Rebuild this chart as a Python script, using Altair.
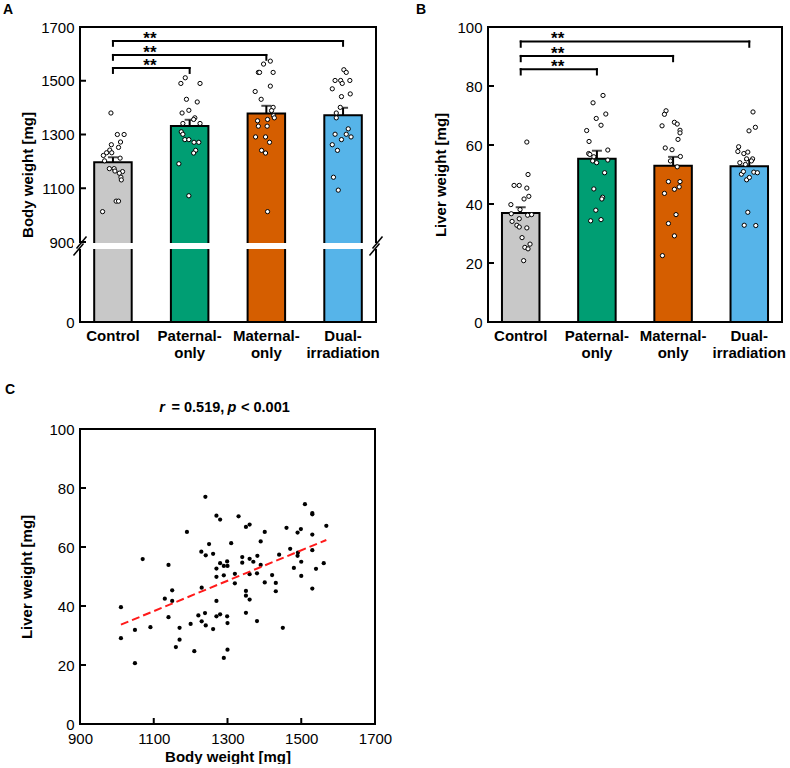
import altair as alt
import pandas as pd

GROUPS = ["Control", "Paternal-only", "Maternal-only", "Dual-irradiation"]
COLORS = ["#c8c8c8", "#009e73", "#d55e00", "#56b4e9"]
FONT = "Liberation Sans"

# Body weight per animal [mg]
body_control = [1380, 1300, 1300, 1272, 1262, 1252, 1242, 1232, 1232, 1222, 1212,
                1202, 1173, 1173, 1164, 1162, 1156, 1141, 1131, 1052, 1052, 1013]
body_paternal = [1511, 1490, 1490, 1431, 1421, 1390, 1380, 1362, 1356, 1341, 1341,
                 1310, 1301, 1281, 1281, 1271, 1271, 1241, 1231, 1191, 1072]
body_maternal = [1573, 1562, 1531, 1531, 1531, 1480, 1460, 1431, 1401, 1389, 1370,
                 1362, 1351, 1356, 1331, 1331, 1291, 1291, 1271, 1241, 1231, 1013]
body_dual = [1541, 1531, 1501, 1501, 1501, 1490, 1470, 1451, 1441, 1401, 1380,
             1362, 1321, 1301, 1301, 1291, 1281, 1262, 1241, 1141, 1093]

# Horizontal spread of the dots inside each bar (fraction of bar width)
body_control_jit = [-0.05, 0.11, 0.28, 0.19, -0.04, 0.14, -0.08, -0.16, -0.03, -0.24, 0.18,
                    -0.21, -0.09, 0.03, 0.05, 0.24, 0.16, 0.20, 0.21, 0.08, 0.14, -0.26]
body_paternal_jit = [-0.11, -0.22, 0.26, -0.08, 0.19, -0.02, -0.19, 0.13, 0.10, -0.17, 0.26,
                     -0.21, -0.17, -0.12, -0.02, 0.11, 0.23, 0.15, 0.10, -0.27, -0.02]
body_maternal_jit = [0.10, -0.07, -0.20, -0.17, 0.17, 0.10, -0.28, -0.13, 0.17, 0.13, 0.18,
                     0.20, -0.22, 0.03, -0.20, 0.02, -0.27, -0.02, 0.08, -0.12, -0.02, 0.03]
body_dual_jit = [0.02, 0.08, -0.20, -0.06, 0.17, -0.02, -0.27, 0.18, -0.04, -0.07, -0.17,
                 -0.17, 0.13, -0.20, 0.08, 0.20, -0.04, -0.27, -0.14, -0.24, -0.12]

# Liver weight per animal [mg]
liver_control = [61.0, 50.0, 46.3, 46.3, 45.4, 42.6, 41.7, 39.8, 38.1, 36.7, 36.2,
                 36.4, 35.0, 34.1, 32.8, 32.2, 31.9, 28.6, 26.4, 25.3, 24.8, 20.8]
liver_paternal = [76.8, 74.3, 70.5, 69.0, 66.7, 64.9, 61.2, 58.3, 57.1, 56.8, 56.0,
                  54.6, 54.0, 54.9, 50.6, 45.1, 42.3, 41.7, 37.9, 34.3, 34.7]
liver_maternal = [71.6, 70.4, 66.5, 67.7, 67.1, 65.0, 64.1, 61.9, 59.0, 58.4, 56.1,
                  54.6, 52.6, 47.6, 47.6, 45.8, 45.0, 43.6, 36.4, 33.4, 29.2, 22.5]
liver_dual = [71.2, 66.0, 64.8, 59.4, 57.8, 57.1, 57.6, 55.3, 55.3, 54.0, 50.1,
              51.0, 50.8, 50.6, 48.2, 37.2, 32.8, 32.7, 54.6, 53.4, 49.0]

liver_control_jit = [0.15, 0.18, -0.17, -0.04, 0.15, 0.20, 0.08, -0.25, -0.02, -0.24, 0.17,
                     0.27, -0.04, -0.22, -0.10, -0.04, 0.15, 0.03, 0.23, 0.10, 0.18, 0.07]
liver_paternal_jit = [0.15, -0.10, 0.22, -0.02, 0.10, -0.26, -0.20, 0.27, -0.21, -0.18, -0.08,
                      -0.11, -0.01, 0.27, 0.19, -0.08, 0.14, 0.12, -0.03, -0.16, 0.10]
liver_maternal_jit = [-0.18, -0.22, -0.28, 0.03, 0.10, 0.17, 0.17, 0.12, -0.20, -0.03, 0.18,
                      -0.07, 0.10, -0.12, 0.17, 0.15, 0.03, -0.22, 0.07, -0.12, 0.03, -0.27]
liver_dual_jit = [0.09, 0.15, -0.01, -0.27, -0.29, -0.14, -0.04, -0.07, 0.08, -0.24, -0.20,
                  -0.15, 0.11, 0.20, -0.07, -0.04, -0.13, 0.16, 0.05, -0.10, 0.00]

# Paired body / liver weights of every animal
scatter_body = [1240, 1270, 1280, 1190, 1250, 1229, 1241, 1261, 1280, 1070, 1140, 1270,
                1270, 1230, 1150, 1130, 1150, 1270, 1011, 1280, 1239, 1221, 1140, 1270,
                1230, 1200, 1241, 1091, 1170, 1261, 1049, 1011, 1170, 1160, 1210, 1049,
                1510, 1530, 1530, 1330, 1360, 1350, 1568, 1460, 1499, 1490, 1401, 1530,
                1390, 1310, 1470, 1491, 1490, 1530, 1440, 1340, 1340, 1360, 1370, 1381,
                1299, 1290, 1300, 1390, 1480, 1500, 1561, 1540, 1320, 1360, 1380, 1421,
                1290, 1500, 1320, 1401, 1431, 1431, 1350, 1350, 1360, 1530, 1299, 1300,
                1350, 1380, 1450, 1300, 1290]
scatter_liver = [77.0, 70.6, 69.3, 65.1, 61.0, 58.4, 57.2, 57.7, 54.5, 55.9, 53.9, 52.7,
                 49.9, 46.2, 45.3, 42.5, 41.7, 41.7, 39.6, 37.2, 37.6, 36.8, 36.2, 36.5,
                 34.8, 33.9, 33.4, 32.8, 32.6, 32.2, 31.9, 29.1, 28.6, 26.1, 24.7, 20.6,
                 74.5, 71.5, 71.1, 70.4, 67.6, 66.8, 67.2, 66.5, 66.1, 64.9, 65.1, 64.2,
                 61.9, 61.3, 59.4, 58.1, 57.0, 58.9, 57.4, 56.6, 54.7, 56.0, 55.0, 57.0,
                 55.1, 53.6, 53.6, 53.9, 52.9, 55.0, 54.5, 52.6, 50.9, 50.8, 51.1, 50.5,
                 50.4, 50.2, 47.7, 48.0, 47.8, 45.0, 45.1, 43.5, 42.2, 45.9, 36.5, 34.2,
                 37.7, 34.9, 32.6, 25.2, 22.4]

# Significance brackets: Control vs. each irradiated group (** p < 0.01)
brackets_body = {"target": ["Paternal-only", "Maternal-only", "Dual-irradiation"],
                 "level": [1547, 1596, 1648]}
brackets_liver = {"target": ["Paternal-only", "Maternal-only", "Dual-irradiation"],
                  "level": [85.7, 90.2, 95.1]}

W_A, W_B, W_C, H = 296, 294, 295, 295
LW = 2
BAR_W = 37.5


def tidy(values, jitters):
    rows = []
    for g, vals, jit in zip(GROUPS, values, jitters):
        for v, j in zip(vals, jit):
            rows.append({"group": g, "value": v, "jit": j})
    return pd.DataFrame(rows)


one = pd.DataFrame({"k": [0]})

label_expr = ("indexof(datum.label, '-') > 0 ? "
              "[slice(datum.label, 0, indexof(datum.label, '-') + 1), "
              "slice(datum.label, indexof(datum.label, '-') + 1)] : datum.label")


def frame(width, height):
    """Four black sides of the plotting box."""
    specs = [
        dict(x=alt.value(0), x2=alt.value(0), y=alt.value(0), y2=alt.value(height)),
        dict(x=alt.value(width), x2=alt.value(width), y=alt.value(0), y2=alt.value(height)),
        dict(x=alt.value(0), x2=alt.value(width), y=alt.value(0), y2=alt.value(0)),
        dict(x=alt.value(0), x2=alt.value(width), y=alt.value(height), y2=alt.value(height)),
    ]
    return [alt.Chart(one).mark_rule(color="black", strokeWidth=LW, strokeCap="square").encode(**s)
            for s in specs]


def panel_letter(letter, dx, dy):
    return alt.Chart(pd.DataFrame({"t": [letter]})).mark_text(
        font=FONT, fontSize=14, fontWeight="bold", align="left", baseline="top", color="black"
    ).encode(text="t:N", x=alt.value(dx), y=alt.value(dy))


def bar_panel(df, width, yscale, yaxis, tick_vals, brackets, drop, letter, broken=False):
    x_scale = alt.Scale(domain=GROUPS, paddingInner=0.511, paddingOuter=0.185)
    x_axis = alt.Axis(title=None, labelAngle=0, labelExpr=label_expr, labelFontWeight="bold",
                      labelFontSize=15, labelPadding=6, labelLineHeight=17)

    def X(field):
        return alt.X(field, scale=x_scale, axis=x_axis, sort=GROUPS)

    def Y(field):
        return alt.Y(field, scale=yscale, axis=yaxis)

    base = alt.Chart(df)
    stats = base.transform_aggregate(
        mean="mean(value)", sem="stderr(value)", groupby=["group"]
    ).transform_calculate(top="datum.mean + datum.sem")

    bars = stats.mark_bar(stroke="black", strokeWidth=LW, width=BAR_W).encode(
        x=X("group:N"), y=Y("mean:Q"),
        color=alt.Color("group:N", scale=alt.Scale(domain=GROUPS, range=COLORS), legend=None),
    )
    err = stats.mark_rule(color="black", strokeWidth=LW).encode(
        x=X("group:N"), y=Y("mean:Q"), y2="top:Q")
    cap = stats.mark_tick(color="black", thickness=LW, size=10).encode(
        x=X("group:N"), y=Y("top:Q"))
    dots = base.mark_circle(fill="white", stroke="black", strokeWidth=1, size=18, opacity=1).encode(
        x=X("group:N"),
        xOffset=alt.XOffset("jit:Q", scale=alt.Scale(domain=[-0.47, 0.47])),
        y=Y("value:Q"),
    )

    bdf = pd.DataFrame({"g1": "Control", "g2": brackets["target"], "lvl": brackets["level"]})
    bdf["lo"] = bdf["lvl"] - drop
    bdf["star"] = "**"
    bch = alt.Chart(bdf)
    rule_kw = dict(color="black", strokeWidth=LW, strokeCap="square")
    b_h = bch.mark_rule(**rule_kw).encode(x=X("g1:N"), x2="g2:N", y=Y("lvl:Q"))
    b_l = bch.mark_rule(**rule_kw).encode(x=X("g1:N"), y=Y("lvl:Q"), y2="lo:Q")
    b_r = bch.mark_rule(**rule_kw).encode(x=X("g2:N"), y=Y("lvl:Q"), y2="lo:Q")
    b_t = bch.mark_text(font=FONT, fontSize=17, fontWeight="bold", dx=37, dy=3,
                        align="center", baseline="alphabetic", color="black").encode(
        x=X("g1:N"), y=Y("lvl:Q"), text="star:N")

    ticks = alt.Chart(pd.DataFrame({"v": tick_vals})).mark_rule(color="black", strokeWidth=LW).encode(
        y=Y("v:Q"), x=alt.value(0), x2=alt.value(6))

    layers = [bars, err, cap, dots, b_h, b_l, b_r, b_t, ticks] + frame(width, H)

    if broken:
        # white gap that interrupts the bars and the axis between 0 and 900
        gap = alt.Chart(one).mark_rect(color="white").encode(
            x=alt.value(-7), x2=alt.value(width + 7),
            y=alt.datum(889), y2=alt.datum(821))
        layers.append(gap)
        g_top, g_bot = H - 80 + 0.5, H - 80 + 7.5
        for x0 in (0, width):
            for (cx, cy) in ((x0 + 1.5, g_top), (x0 - 1.5, g_bot)):
                layers.append(alt.Chart(one).mark_rule(color="black", strokeWidth=1.5).encode(
                    x=alt.value(cx - 5), x2=alt.value(cx + 5),
                    y=alt.value(cy + 6), y2=alt.value(cy - 6)))

    layers.append(letter)
    return alt.layer(*layers).properties(width=width, height=H)


df_body = tidy([body_control, body_paternal, body_maternal, body_dual],
               [body_control_jit, body_paternal_jit, body_maternal_jit, body_dual_jit])
df_liver = tidy([liver_control, liver_paternal, liver_maternal, liver_dual],
                [liver_control_jit, liver_paternal_jit, liver_maternal_jit, liver_dual_jit])

yscale_body = alt.Scale(domain=[0, 900, 1700], range=[H, H - 80, 0], nice=False, zero=False)
yaxis_body = alt.Axis(values=[0, 900, 1100, 1300, 1500, 1700], title="Body weight [mg]",
                      format="d", labelPadding=6, titlePadding=5)
panel_a = bar_panel(df_body, W_A, yscale_body, yaxis_body, [900, 1100, 1300, 1500],
                    brackets_body, 18, panel_letter("A", -77, -24), broken=True)

yscale_liver = alt.Scale(domain=[0, 100], nice=False)
yaxis_liver = alt.Axis(values=[0, 20, 40, 60, 80, 100], title="Liver weight [mg]",
                       format="d", labelPadding=6, titlePadding=8)
panel_b = bar_panel(df_liver, W_B, yscale_liver, yaxis_liver, [20, 40, 60, 80],
                    brackets_liver, 1.8, panel_letter("B", -72, -24))

# Panel C: correlation of liver weight with body weight
sc = pd.DataFrame({"bw": scatter_body, "lw": scatter_liver})
xs = alt.Scale(domain=[900, 1700], nice=False, zero=False)
ys = alt.Scale(domain=[0, 100], nice=False)
xaxis_c = alt.Axis(values=[900, 1100, 1300, 1500, 1700], title="Body weight [mg]",
                   format="d", labelPadding=7, titlePadding=3)
yaxis_c = alt.Axis(values=[0, 20, 40, 60, 80, 100], title="Liver weight [mg]",
                   format="d", labelPadding=6, titlePadding=14)


def XC(field):
    return alt.X(field, scale=xs, axis=xaxis_c)


def YC(field):
    return alt.Y(field, scale=ys, axis=yaxis_c)


pts = alt.Chart(sc).mark_circle(size=18, color="black", opacity=1).encode(
    x=XC("bw:Q"), y=YC("lw:Q"))
fit = alt.Chart(sc).transform_regression("bw", "lw").mark_line(
    color="#ff1a1a", strokeDash=[8, 4], strokeWidth=2).encode(x=XC("bw:Q"), y=YC("lw:Q"))
c_xticks = alt.Chart(pd.DataFrame({"v": [1100, 1300, 1500]})).mark_rule(
    color="black", strokeWidth=LW).encode(x=XC("v:Q"), y=alt.value(H), y2=alt.value(H - 6))
c_yticks = alt.Chart(pd.DataFrame({"v": [20, 40, 60, 80]})).mark_rule(
    color="black", strokeWidth=LW).encode(y=YC("v:Q"), x=alt.value(0), x2=alt.value(6))

title_parts = [("r", "italic", 79.3), ("= 0.519,", "normal", 91.5), ("p", "italic", 147.5),
               ("< 0.001", "normal", 161)]
title_layers = [
    alt.Chart(pd.DataFrame({"t": [txt]})).mark_text(
        font=FONT, fontSize=14.5, fontWeight="bold", fontStyle=style, align="left",
        baseline="alphabetic", color="black").encode(text="t:N", x=alt.value(px), y=alt.value(-17.5))
    for txt, style, px in title_parts
]

panel_c = alt.layer(
    pts, fit, c_xticks, c_yticks, *frame(W_C, H), *title_layers,
    panel_letter("C", -75, -46),
).properties(width=W_C, height=H)

chart = alt.concat(
    panel_a, panel_b, panel_c, columns=2,
    spacing={"row": 107, "column": 112}, bounds="flush",
    padding={"left": 3, "top": 3, "right": 0, "bottom": 0},
).configure_view(stroke=None).configure_axis(
    grid=False, domain=False, ticks=False, labelFlush=False,
    labelFont=FONT, titleFont=FONT, labelFontSize=15, titleFontSize=15,
    titleFontWeight="bold", labelColor="black", titleColor="black",
)

chart.save("out.html", embed_options={"renderer": "svg", "actions": False})
